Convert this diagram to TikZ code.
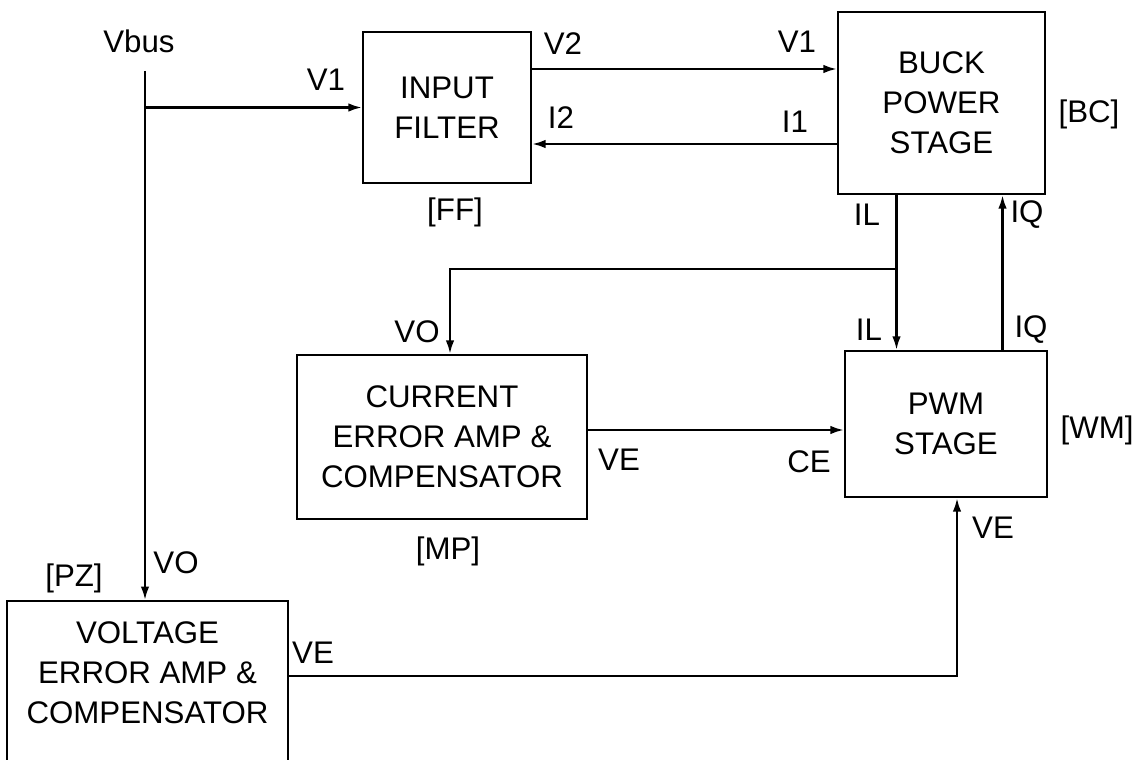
\documentclass[tikz,border=0pt]{standalone}
\usepackage{fontspec}
\setmainfont{Liberation Sans}
\usepackage{tikz}
\usetikzlibrary{positioning, arrows.meta, calc}
\tikzset{
  block/.style = {draw, line width=0.9pt, inner sep=0pt, align=center,
                  font=\fontsize{12.5}{16}\selectfont},
  sig/.style   = {font=\fontsize{12.5}{14}\selectfont, inner sep=0pt},
  wire/.style  = {line width=0.9pt},
  arr/.style   = {wire, -{Latex[length=5.4pt, width=3.4pt]}},
}

\begin{document}
\begin{tikzpicture}[x=0.4pt, y=-0.4pt]
\useasboundingbox (0,0) rectangle (1138,759);

% Blocks
\node[block, minimum width=67.2pt, minimum height=60.4pt] (filter) at (447,107.5) {INPUT\\FILTER};
\node[block, minimum width=82.8pt, minimum height=72.8pt] (buck)   at (941.5,103) {BUCK\\POWER\\STAGE};
\node[block, minimum width=116pt,  minimum height=65.6pt] (cur)    at (442,437) {CURRENT\\ERROR AMP \&\\COMPENSATOR};
\node[block, minimum width=80.8pt, minimum height=58.4pt] (pwm)    at (946,424) {PWM\\STAGE};
\node[block, minimum width=112.4pt, text height=48.8pt, text depth=40pt, anchor=north] (volt)
     at (147.5,600) {VOLTAGE\\ERROR AMP \&\\COMPENSATOR};

% Block tags
\node[sig] (tagff) at (455,212)  {[FF]};
\node[sig] (tagbc) at (1089,114) {[BC]};
\node[sig] (tagmp) at (448,551)  {[MP]};
\node[sig] (tagwm) at (1097,430) {[WM]};
\node[sig] (tagpz) at (74,578)   {[PZ]};

% Bus input
\node[sig] (vbus) at (139,41) {Vbus};
\coordinate (vtop) at (145,71);
\coordinate (tap)  at (896.5,269);

% Connectors
\draw[arr] (vtop) -- (vtop |- volt.north);
\draw[arr] (vtop |- filter.west) -- (filter.west);
\draw[arr] ([yshift=15.4pt]filter.east) -- ([yshift=15.4pt]filter.east -| buck.west);
\draw[arr] ([yshift=-14.6pt]filter.east -| buck.west) -- ([yshift=-14.6pt]filter.east);
\draw[arr] ([xshift=-18pt]buck.south) -- ([xshift=-18pt]buck.south |- pwm.north);
\draw[arr] ([xshift=24.4pt]buck.south |- pwm.north) -- ([xshift=24.4pt]buck.south);
\draw[arr] (tap) -| ([xshift=3.2pt]cur.north);
\draw[arr] ([yshift=2.8pt]cur.east) -- ([yshift=2.8pt]cur.east -| pwm.west);
\draw[arr] ([yshift=-30.4pt]volt.north east) -| ([xshift=4.4pt]pwm.south);

% Signal names
\node[sig] (lv1a) at (326,80)  {V1};
\node[sig] (lv2)  at (563,44)  {V2};
\node[sig] (li2)  at (561,118) {I2};
\node[sig] (lv1b) at (797,42)  {V1};
\node[sig] (li1)  at (795,122) {I1};
\node[sig] (lila) at (867,215) {IL};
\node[sig] (liqa) at (1027,215) {IQ};
\node[sig] (lilb) at (869,330) {IL};
\node[sig] (liqb) at (1031,330) {IQ};
\node[sig] (lvob) at (417,332) {VO};
\node[sig] (lvec) at (619,460) {VE};
\node[sig] (lce)  at (809,462) {CE};
\node[sig] (lvep) at (993,528) {VE};
\node[sig] (lvoa) at (176,563) {VO};
\node[sig] (lvev) at (313,653) {VE};

\end{tikzpicture}
\end{document}
